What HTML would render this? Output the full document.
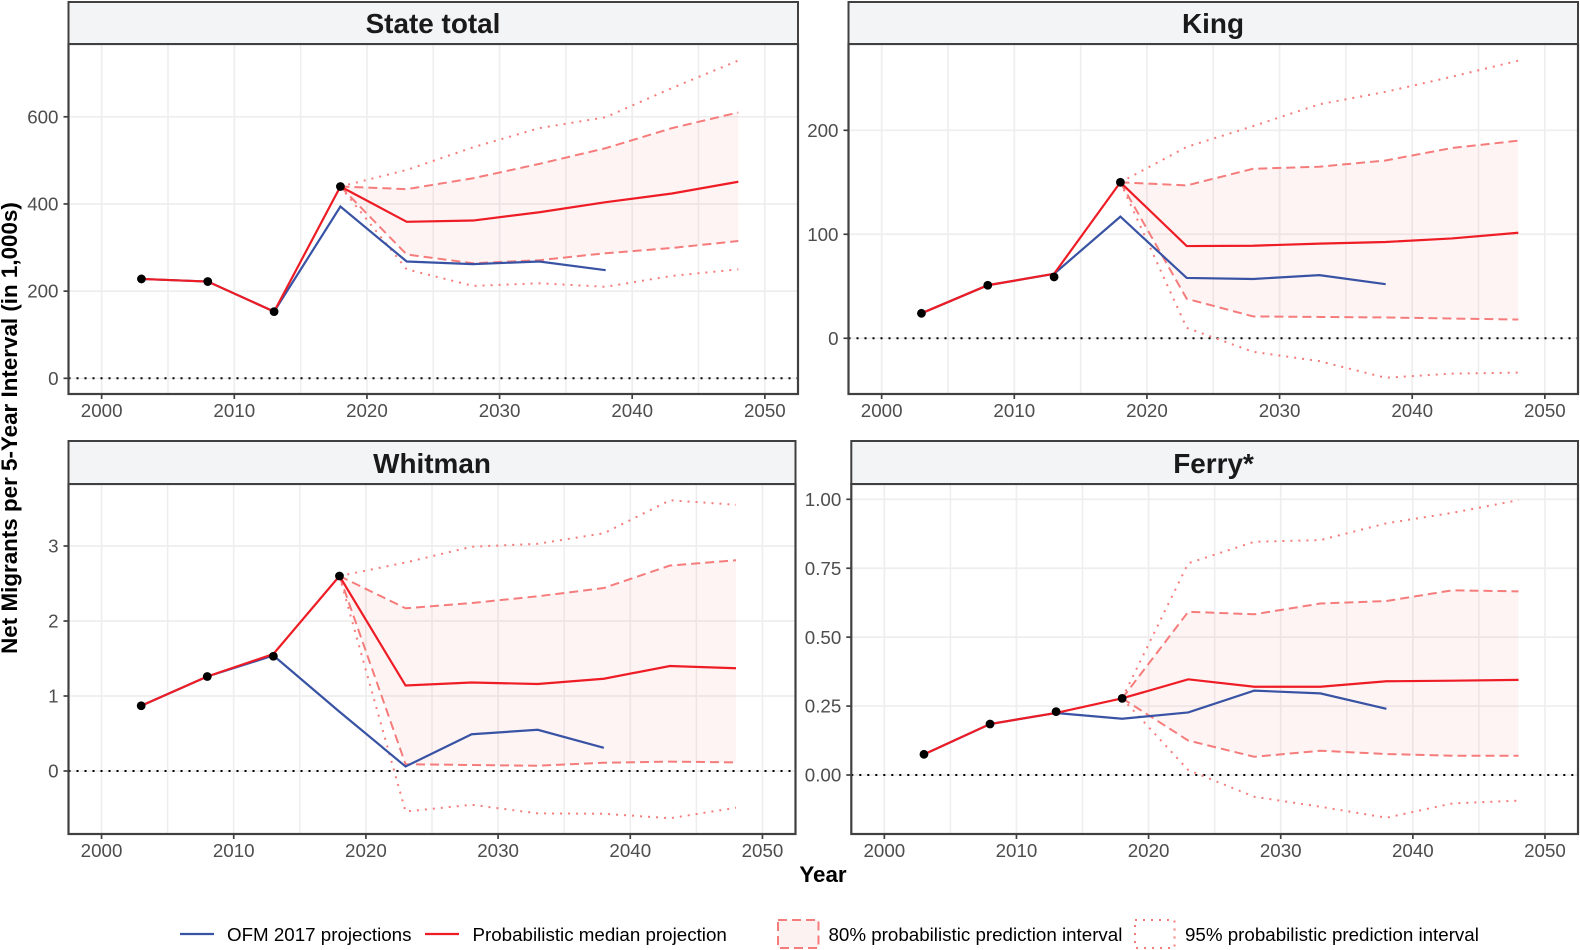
<!DOCTYPE html>
<html lang="en">
<head>
<meta charset="utf-8">
<title>Net migrants per 5-year interval</title>
<style>
html,body{margin:0;padding:0;background:#fff;}
svg{display:block;font-family:"Liberation Sans",Arial,sans-serif;}
.strip{fill:#f3f4f6;stroke:#404040;stroke-width:2;}
.strip-title{font-size:27.9px;font-weight:bold;fill:#1a1a1a;text-anchor:middle;}
.axis-title{font-size:22.4px;font-weight:bold;fill:#000;text-anchor:middle;}
.legend-text{font-size:18.75px;fill:#000;}
.tick-label{font-size:18.75px;fill:#4d4d4d;}
</style>
</head>
<body>
<svg id="chart" width="1580" height="950" viewBox="0 0 1580 950" xmlns="http://www.w3.org/2000/svg">
  <rect x="0" y="0" width="1580" height="950" fill="#ffffff"/>
  <g id="panels"></g>

  <rect class="strip" x="68.5" y="2" width="729.5" height="42"/>
  <text class="strip-title" x="433" y="33">State total</text>
  <rect class="strip" x="848.5" y="2" width="729.5" height="42"/>
  <text class="strip-title" x="1213" y="33">King</text>
  <rect class="strip" x="68.5" y="441" width="727" height="43"/>
  <text class="strip-title" x="432" y="473">Whitman</text>
  <rect class="strip" x="851.3" y="441" width="726.7" height="43"/>
  <text class="strip-title" x="1213.5" y="473">Ferry*</text>

  <text class="axis-title" transform="translate(17,428) rotate(-90)">Net Migrants per 5-Year Interval (in 1,000s)</text>
  <text class="axis-title" x="823" y="882">Year</text>

  <g>
    <line x1="180" y1="934" x2="214" y2="934" stroke="#3953a4" stroke-width="2.2"/>
    <text class="legend-text" x="227" y="941">OFM 2017 projections</text>
    <line x1="425" y1="934" x2="459" y2="934" stroke="#ee1c25" stroke-width="2.2"/>
    <text class="legend-text" x="472.5" y="941">Probabilistic median projection</text>
    <rect x="778" y="920" width="40.5" height="28" fill="#fdf2f2" stroke="#f67c7c" stroke-width="2" stroke-dasharray="9 5"/>
    <text class="legend-text" x="828.5" y="941">80% probabilistic prediction interval</text>
    <rect x="1135" y="920" width="39.5" height="28" fill="none" stroke="#f67c7c" stroke-width="2" stroke-dasharray="2 6"/>
    <text class="legend-text" x="1185" y="941">95% probabilistic prediction interval</text>
  </g>
</svg>

<script>
// Shared categories
const medianYears = [2003, 2008, 2013, 2018, 2023, 2028, 2033, 2038, 2043, 2048];
const observedYears = [2003, 2008, 2013, 2018];
const ofmYears = [2003, 2008, 2013, 2018, 2023, 2028, 2033, 2038];
const bandYears = [2018, 2023, 2028, 2033, 2038, 2043, 2048];
const xTickYears = [2000, 2010, 2020, 2030, 2040, 2050];
const xMinorYears = [2005, 2015, 2025, 2035, 2045];

// State total
const stateYTicks = [0, 200, 400, 600];
const stateYLabels = ['0', '200', '400', '600'];
const stateObserved = [228, 222, 153, 440];
const stateMedian = [228, 222, 153, 440, 359, 362, 381, 404, 424, 451];
const stateOfm = [228, 222, 153, 394, 268, 262, 268, 248];
const stateUpper80 = [440, 434, 459, 492, 528, 574, 610];
const stateLower80 = [440, 284, 264, 271, 287, 299, 315];
const stateUpper95 = [440, 478, 530, 574, 599, 666, 729];
const stateLower95 = [440, 250, 212, 218, 210, 235, 250];

// King
const kingYTicks = [0, 100, 200];
const kingYLabels = ['0', '100', '200'];
const kingObserved = [24, 51, 59, 150];
const kingMedian = [24, 51, 62, 150, 88.7, 89, 91, 92.6, 96, 101.5];
const kingOfm = [24, 51, 62, 117, 58, 57, 60.7, 52];
const kingUpper80 = [150, 147, 163, 165, 171, 183, 190];
const kingLower80 = [150, 38, 21, 20.5, 20, 19, 18];
const kingUpper95 = [150, 184, 204, 225, 237, 251.5, 267];
const kingLower95 = [150, 10, -13, -22, -38, -34, -33];

// Whitman
const whitmanYTicks = [0, 1, 2, 3];
const whitmanYLabels = ['0', '1', '2', '3'];
const whitmanObserved = [0.87, 1.26, 1.53, 2.6];
const whitmanMedian = [0.87, 1.26, 1.56, 2.6, 1.14, 1.18, 1.16, 1.23, 1.4, 1.37];
const whitmanOfm = [0.87, 1.26, 1.54, 0.79, 0.06, 0.49, 0.55, 0.31];
const whitmanUpper80 = [2.6, 2.17, 2.24, 2.33, 2.44, 2.74, 2.81];
const whitmanLower80 = [2.6, 0.09, 0.08, 0.07, 0.11, 0.125, 0.115];
const whitmanUpper95 = [2.6, 2.78, 2.99, 3.03, 3.17, 3.61, 3.55];
const whitmanLower95 = [2.6, -0.54, -0.45, -0.565, -0.57, -0.63, -0.49];

// Ferry
const ferryYTicks = [0, 0.25, 0.5, 0.75, 1];
const ferryYLabels = ['0.00', '0.25', '0.50', '0.75', '1.00'];
const ferryObserved = [0.075, 0.185, 0.23, 0.278];
const ferryMedian = [0.075, 0.185, 0.225, 0.278, 0.347, 0.32, 0.32, 0.34, 0.342, 0.345];
const ferryOfm = [0.075, 0.185, 0.225, 0.204, 0.227, 0.306, 0.296, 0.24];
const ferryUpper80 = [0.278, 0.592, 0.583, 0.622, 0.631, 0.67, 0.666];
const ferryLower80 = [0.278, 0.125, 0.066, 0.088, 0.076, 0.07, 0.07];
const ferryUpper95 = [0.278, 0.768, 0.846, 0.852, 0.913, 0.951, 0.997];
const ferryLower95 = [0.278, 0.018, -0.079, -0.115, -0.155, -0.103, -0.093];

const SVGNS = 'http://www.w3.org/2000/svg';
const root = document.getElementById('panels');

function make(parent, tag, name, attrs) {
  const el = document.createElementNS(SVGNS, tag);
  
  
  for (const key in attrs) el.setAttribute(key, attrs[key]);
  parent.appendChild(el);
  return el;
}

function drawPanel(p) {
  const sx = v => p.left + (v - 1997.5) * (p.right - p.left) / 55;
  const sy = v => p.bottom - (v - p.yMin) * (p.bottom - p.top) / (p.yMax - p.yMin);
  const pts = (xs, ys) => xs.map((x, i) => sx(x).toFixed(2) + ',' + sy(ys[i]).toFixed(2)).join(' ');
  const g = make(root, 'g', p.key + '-panel', {});

  const clipId = p.key + '-clip';
  const defs = make(g, 'defs', p.key + '-defs', {});
  const clip = make(defs, 'clipPath', p.key + '-clip-path', { id: clipId });
  make(clip, 'rect', p.key + '-clip-rect', { x: p.left, y: p.top, width: p.right - p.left, height: p.bottom - p.top });

  const grid = make(g, 'g', p.key + '-gridlines', {});
  xMinorYears.forEach(v => {
    make(grid, 'line', p.key + '-minor-gridline-x', { x1: sx(v), x2: sx(v), y1: p.top, y2: p.bottom, stroke: '#eeeeef', 'stroke-width': 1.5 });
  });
  xTickYears.forEach(v => {
    make(grid, 'line', p.key + '-gridline-x', { x1: sx(v), x2: sx(v), y1: p.top, y2: p.bottom, stroke: '#eeeeef', 'stroke-width': 1.7 });
  });
  p.yTicks.forEach(v => {
    make(grid, 'line', p.key + '-gridline-y', { x1: p.left, x2: p.right, y1: sy(v), y2: sy(v), stroke: '#eeeeef', 'stroke-width': 1.7 });
  });

  const marks = make(g, 'g', p.key + '-marks', { 'clip-path': 'url(#' + clipId + ')' });

  make(marks, 'line', p.key + '-zero-line', { x1: p.left, x2: p.right, y1: sy(0), y2: sy(0), stroke: '#000000', 'stroke-width': 2, 'stroke-dasharray': '2 6' });

  const ribbonTop = pts(bandYears, p.upper80);
  const ribbonBottom = pts(bandYears.slice().reverse(), p.lower80.slice().reverse());
  make(marks, 'polygon', p.key + '-ribbon-80', { points: ribbonTop + ' ' + ribbonBottom, fill: '#e8403f', 'fill-opacity': 0.06 });

  make(marks, 'polyline', p.key + '-upper-95-line', { points: pts(bandYears, p.upper95), fill: 'none', stroke: '#f67c7c', 'stroke-width': 2, 'stroke-dasharray': '2 6' });
  make(marks, 'polyline', p.key + '-lower-95-line', { points: pts(bandYears, p.lower95), fill: 'none', stroke: '#f67c7c', 'stroke-width': 2, 'stroke-dasharray': '2 6' });
  make(marks, 'polyline', p.key + '-upper-80-line', { points: pts(bandYears, p.upper80), fill: 'none', stroke: '#f67c7c', 'stroke-width': 2, 'stroke-dasharray': '9 5' });
  make(marks, 'polyline', p.key + '-lower-80-line', { points: pts(bandYears, p.lower80), fill: 'none', stroke: '#f67c7c', 'stroke-width': 2, 'stroke-dasharray': '9 5' });

  make(marks, 'polyline', p.key + '-ofm-line', { points: pts(ofmYears, p.ofm), fill: 'none', stroke: '#3953a4', 'stroke-width': 2.2 });
  make(marks, 'polyline', p.key + '-median-line', { points: pts(medianYears, p.median), fill: 'none', stroke: '#ee1c25', 'stroke-width': 2.2 });

  observedYears.forEach((yr, i) => {
    make(marks, 'circle', p.key + '-observed-point', { cx: sx(yr), cy: sy(p.observed[i]), r: 4.4, fill: '#000000' });
  });

  const axes = make(g, 'g', p.key + '-axes', {});
  xTickYears.forEach(v => {
    make(axes, 'line', p.key + '-x-tick', { x1: sx(v), x2: sx(v), y1: p.bottom, y2: p.bottom + 5, stroke: '#404040', 'stroke-width': 1.7 });
    const t = make(axes, 'text', p.key + '-x-tick-label', { x: sx(v), y: p.bottom + 23, 'text-anchor': 'middle', class: 'tick-label' });
    t.textContent = String(v);
  });
  p.yTicks.forEach((v, i) => {
    make(axes, 'line', p.key + '-y-tick', { x1: p.left - 5, x2: p.left, y1: sy(v), y2: sy(v), stroke: '#404040', 'stroke-width': 1.7 });
    const t = make(axes, 'text', p.key + '-y-tick-label', { x: p.left - 10, y: sy(v) + 6.6, 'text-anchor': 'end', class: 'tick-label' });
    t.textContent = p.yLabels[i];
  });
  make(axes, 'rect', p.key + '-border', { x: p.left, y: p.top, width: p.right - p.left, height: p.bottom - p.top, fill: 'none', stroke: '#404040', 'stroke-width': 2.2 });
}

drawPanel({ key: 'state-total', left: 68.5, right: 798, top: 44, bottom: 394, yMin: -36, yMax: 767,
  yTicks: stateYTicks, yLabels: stateYLabels, observed: stateObserved, median: stateMedian, ofm: stateOfm,
  upper80: stateUpper80, lower80: stateLower80, upper95: stateUpper95, lower95: stateLower95 });
drawPanel({ key: 'king', left: 848.5, right: 1578, top: 44, bottom: 394, yMin: -53.6, yMax: 283,
  yTicks: kingYTicks, yLabels: kingYLabels, observed: kingObserved, median: kingMedian, ofm: kingOfm,
  upper80: kingUpper80, lower80: kingLower80, upper95: kingUpper95, lower95: kingLower95 });
drawPanel({ key: 'whitman', left: 68.5, right: 795.5, top: 484, bottom: 834, yMin: -0.84, yMax: 3.827,
  yTicks: whitmanYTicks, yLabels: whitmanYLabels, observed: whitmanObserved, median: whitmanMedian, ofm: whitmanOfm,
  upper80: whitmanUpper80, lower80: whitmanLower80, upper95: whitmanUpper95, lower95: whitmanLower95 });
drawPanel({ key: 'ferry', left: 851.3, right: 1578, top: 484, bottom: 834, yMin: -0.214, yMax: 1.0555,
  yTicks: ferryYTicks, yLabels: ferryYLabels, observed: ferryObserved, median: ferryMedian, ofm: ferryOfm,
  upper80: ferryUpper80, lower80: ferryLower80, upper95: ferryUpper95, lower95: ferryLower95 });
</script>
</body>
</html>
